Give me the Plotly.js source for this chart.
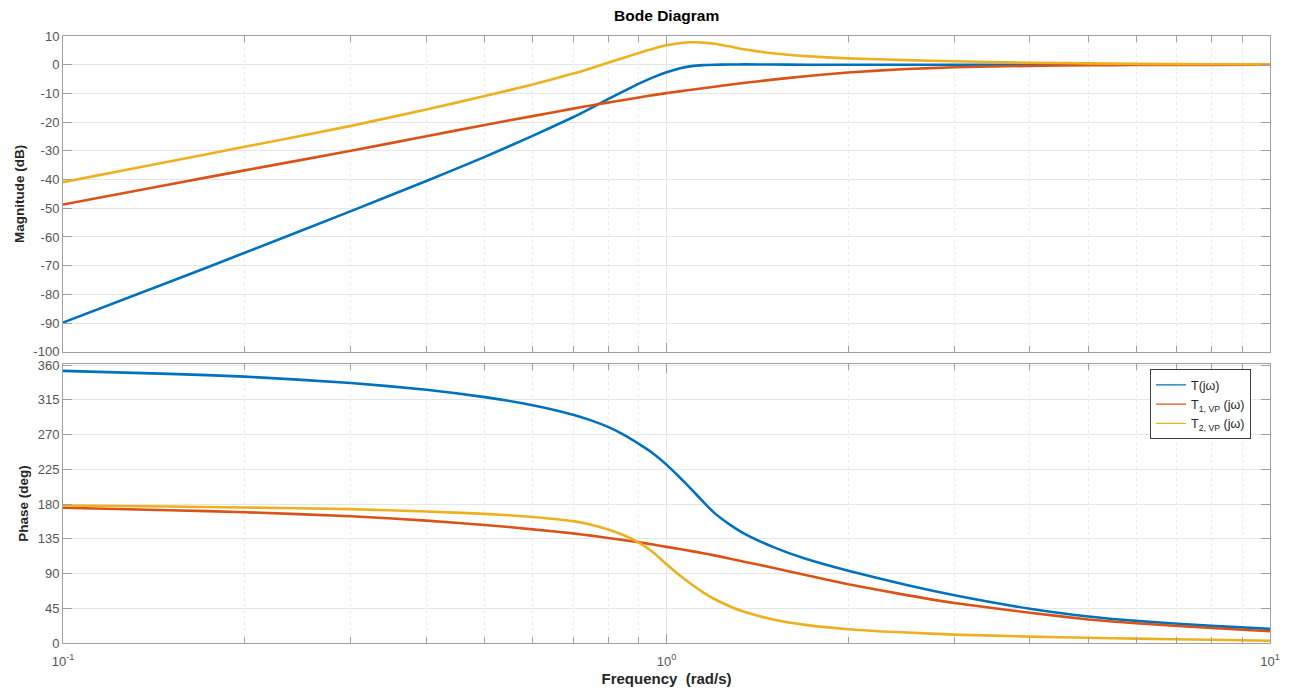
<!DOCTYPE html>
<html>
<head>
<meta charset="utf-8">
<script src="https://cdn.plot.ly/plotly-3.0.1.min.js"></script>
<style>html,body{margin:0;padding:0;background:#fff;}#chart{width:1293px;height:693px;}</style>
</head>
<body>
<div id="chart"></div>
<script>
// Frequencies (rad/s)
var freq = [0.1, 0.15, 0.2, 0.3, 0.4, 0.5, 0.6, 0.7, 0.75, 0.8, 0.85, 0.9, 0.95, 1.0, 1.05, 1.1, 1.15, 1.2, 1.27, 1.35, 1.5, 1.7, 2, 2.5, 3, 4, 5, 6, 8, 10];

// Magnitude (dB)
var magT  = [-89.8, -75.7, -65.5, -51.0, -40.5, -32.1, -24.8, -18.3, -15.1, -12.0, -9.2, -6.6, -4.4, -2.6, -1.3, -0.5, -0.15, 0.0, 0.08, 0.1, 0.05, 0.0, 0.0, 0.0, 0.0, 0.0, 0.0, 0.0, 0.0, 0.0];
var magT1 = [-48.7, -41.7, -36.8, -30.0, -24.9, -21.0, -17.9, -15.3, -14.2, -13.2, -12.3, -11.4, -10.6, -9.9, -9.3, -8.7, -8.2, -7.7, -7.0, -6.3, -5.2, -4.0, -2.7, -1.5, -0.9, -0.4, -0.2, -0.1, -0.05, 0.0];
var magT2 = [-40.9, -33.7, -28.6, -21.3, -15.6, -10.9, -6.9, -3.1, -1.2, 0.7, 2.4, 4.1, 5.6, 6.8, 7.5, 7.8, 7.7, 7.3, 6.4, 5.3, 4.0, 3.0, 2.2, 1.6, 1.2, 0.7, 0.45, 0.3, 0.15, 0.1];

// Phase (deg)
var phT  = [352.4, 348.5, 345.0, 336.7, 328.0, 318.4, 308.0, 295.7, 288.3, 279.8, 269.5, 257.8, 245.5, 231.0, 215.0, 199.0, 183.0, 168.5, 154.0, 141.0, 124.5, 109.0, 93.6, 75.0, 61.8, 44.4, 34.4, 28.7, 22.2, 18.3];
var phT1 = [175.1, 172.0, 169.4, 164.2, 158.5, 152.9, 147.2, 142.0, 139.0, 136.0, 133.2, 130.5, 127.5, 124.5, 121.8, 119.0, 116.3, 113.5, 109.5, 105.0, 97.5, 88.0, 76.0, 62.0, 51.8, 39.2, 30.5, 25.5, 19.5, 15.2];
var phT2 = [178.1, 176.8, 175.5, 173.3, 170.3, 167.2, 163.2, 157.8, 153.2, 147.0, 139.5, 130.0, 117.5, 102.0, 88.0, 76.0, 65.5, 57.0, 48.0, 40.0, 30.5, 23.5, 17.9, 13.5, 10.9, 8.3, 6.8, 5.7, 4.2, 3.0];

var seriesNames = ['T(j\u03c9)', 'T<sub>1, VP</sub> (j\u03c9)', 'T<sub>2, VP</sub> (j\u03c9)'];
var colors = ['#0072BD', '#D95319', '#EDB120'];

var xTickVals = [0.1, 1, 10];
var xTickText = ['10<sup>-1</sup>', '10<sup>0</sup>', '10<sup>1</sup>'];
var magTicks = [-100, -90, -80, -70, -60, -50, -40, -30, -20, -10, 0, 10];
var magTickText = ['-100', '-90', '-80', '-70', '-60', '-50', '-40', '-30', '-20', '-10', '0', '10'];
var phaseTicks = [0, 45, 90, 135, 180, 225, 270, 315, 360];
var minorVals = [0.2, 0.3, 0.4, 0.5, 0.6, 0.7, 0.8, 0.9, 2, 3, 4, 5, 6, 7, 8, 9];

var mags = [magT, magT1, magT2];
var phs = [phT, phT1, phT2];
var traces = [];
for (var i = 0; i < 3; i++) {
  traces.push({x: freq, y: mags[i], xaxis: 'x', yaxis: 'y', type: 'scatter', mode: 'lines',
    line: {color: colors[i], width: 2.6, shape: 'spline', smoothing: 0.5}, showlegend: false, hoverinfo: 'skip'});
}
for (var i = 0; i < 3; i++) {
  traces.push({x: freq, y: phs[i], xaxis: 'x2', yaxis: 'y2', type: 'scatter', mode: 'lines',
    line: {color: colors[i], width: 2.6, shape: 'spline', smoothing: 0.5}, showlegend: false, hoverinfo: 'skip'});
}
// legend entries (thin lines as in the original legend)
for (var i = 0; i < 3; i++) {
  traces.push({x: [null], y: [null], xaxis: 'x2', yaxis: 'y2', type: 'scatter', mode: 'lines',
    name: seriesNames[i], line: {color: colors[i], width: 1.2}, showlegend: true});
}

var axisCommon = {
  showline: true, linecolor: '#a0a0a0', linewidth: 1, mirror: 'ticks',
  ticks: 'inside', ticklen: 9, tickcolor: '#a0a0a0', tickwidth: 1,
  gridcolor: '#e6e6e6', gridwidth: 1, zeroline: false,
  tickfont: {family: 'Liberation Sans, Arial, sans-serif', size: 13, color: '#555555'}
};
function xaxisDef(showLabels, domainAnchor) {
  return Object.assign({}, axisCommon, {
    type: 'log', range: [-1, 1], anchor: domainAnchor,
    tickmode: 'array', tickvals: xTickVals, ticktext: showLabels ? xTickText : ['', '', ''],
    showticklabels: showLabels, showgrid: true, ticklabelstandoff: 6,
    minor: {tickmode: 'array', tickvals: minorVals, ticks: 'inside', ticklen: 6, tickcolor: '#a0a0a0',
            showgrid: true, gridcolor: '#ececec', griddash: 'dot', gridwidth: 1}
  });
}

var titleFont = {family: 'Liberation Sans, Arial, sans-serif', size: 13.5, color: '#262626', weight: 'bold'};

var layout = {
  width: 1293, height: 693,
  margin: {l: 63, r: 23, t: 36, b: 50},
  paper_bgcolor: '#ffffff', plot_bgcolor: '#ffffff',
  title: {text: 'Bode Diagram', x: 0.5156, xanchor: 'center', y: 0.977, yanchor: 'middle', yref: 'container',
          font: {family: 'Liberation Sans, Arial, sans-serif', size: 15.5, color: '#000000', weight: 'bold'}},
  xaxis: xaxisDef(false, 'y'),
  yaxis: Object.assign({}, axisCommon, {
    domain: [0.4797, 1], range: [-100, 10], tickmode: 'array', tickvals: magTicks, ticktext: magTickText, anchor: 'x',
    title: {text: 'Magnitude (dB)', font: titleFont, standoff: 5}
  }),
  xaxis2: Object.assign(xaxisDef(true, 'y2'), {
    title: {text: 'Frequency  (rad/s)', font: {family: 'Liberation Sans, Arial, sans-serif', size: 15, color: '#262626', weight: 'bold'}, standoff: 5}
  }),
  yaxis2: Object.assign({}, axisCommon, {
    domain: [0, 0.4599], range: [0, 361.5], tickmode: 'array', tickvals: phaseTicks, anchor: 'x2',
    title: {text: 'Phase (deg)', font: titleFont, standoff: 5}
  }),
  legend: {x: 0.9006, xanchor: 'left', y: 0.451, yanchor: 'top', bgcolor: '#ffffff',
           bordercolor: '#404040', borderwidth: 1,
           font: {family: 'Liberation Sans, Arial, sans-serif', size: 12.5, color: '#262626'},
           tracegroupgap: 0, itemwidth: 30}
};

Plotly.newPlot('chart', traces, layout, {displayModeBar: false, staticPlot: true});
</script>
</body>
</html>
